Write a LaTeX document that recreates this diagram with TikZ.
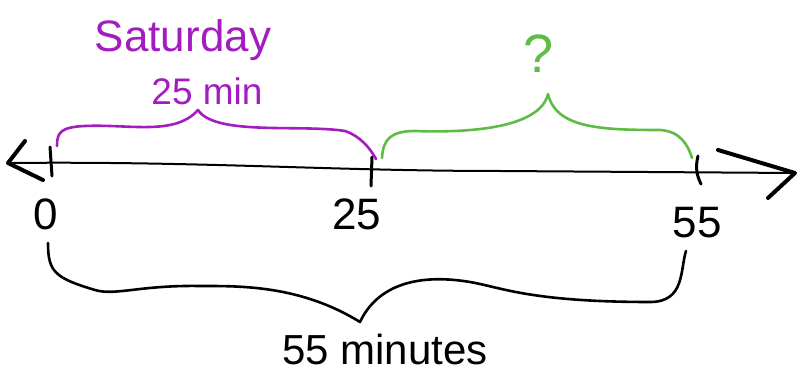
\documentclass[tikz,border=0pt]{standalone}
\usepackage{fontspec}
\setmainfont{Liberation Sans}
\definecolor{brpurple}{HTML}{A21CC0}
\definecolor{brgreen}{HTML}{5EBB46}
\begin{document}
\begin{tikzpicture}[x=1pt,y=-1pt,
  axis/.style={line width=2pt,black,line cap=round},
  tick/.style={line width=3pt,black,line cap=round},
  head/.style={line width=4pt,black,line cap=round,line join=round},
  brace/.style={line width=2.6pt,line cap=round,line join=round},
  lbl/.style={font=\fontsize{44}{44}\selectfont,inner sep=0pt},
  tlbl/.style={font=\fontsize{44}{44}\selectfont,inner sep=0pt}]
\useasboundingbox (0,0) rectangle (797,374);
% axis
\coordinate (aL) at (8,163);
\coordinate (aR) at (795,173);
\draw[axis] (aL) .. controls (200,161) and (330,171) .. (500,171) -- (aR);
\draw[head] (25,141) -- (aL) -- (43,180);
\draw[head] (718,150) -- (aR) -- (768,198);
% ticks
\draw[tick] (50,147) -- (52,176);
\draw[tick] (372,157) -- (371,186);
\draw[tick] (698,156) .. controls (695,168) and (697,176) .. (701,184);
% tick labels
\node[tlbl] (n0) at (46,214) {0};
\node[tlbl] (n25) at (357,214) {25};
\node[tlbl] (n55) at (697,223) {55};
% purple brace
\coordinate (pL) at (57,146);
\coordinate (pT) at (198,110);
\coordinate (pR) at (376,159);
\draw[brace,brpurple] (pL) .. controls (57,133) and (60,127) .. (85,126)
  .. controls (130,124) and (175,136) .. (pT)
  .. controls (215,136) and (300,124) .. (345,131)
  .. controls (360,136) and (370,148) .. (pR);
\node[lbl,brpurple] (sat) at (183,40) {Saturday};
\node[lbl,brpurple,font=\fontsize{37}{37}\selectfont] (min25) at (207,91) {25 min};
% green brace
\coordinate (gL) at (382,158);
\coordinate (gT) at (548,94);
\coordinate (gR) at (692,158);
\draw[brace,brgreen] (gL) .. controls (383,140) and (390,131) .. (415,131)
  .. controls (470,133) and (540,128) .. (gT)
  .. controls (556,128) and (600,130) .. (660,130)
  .. controls (680,131) and (688,145) .. (gR);
\node[lbl,brgreen,font=\fontsize{54}{54}\selectfont] (q) at (539,54) {?};
% bottom brace
\coordinate (bL) at (48,243);
\coordinate (bT) at (360,322);
\coordinate (bR) at (686,251);
\draw[brace,black] (bL) .. controls (48,272) and (55,278) .. (95,290)
  .. controls (115,296) and (140,285) .. (200,286)
  .. controls (240,286) and (300,285) .. (bT)
  .. controls (375,290) and (410,272) .. (470,282)
  .. controls (500,287) and (530,302) .. (650,302)
  .. controls (685,302) and (680,270) .. (bR);
\node[lbl,font=\fontsize{42}{42}\selectfont] (m55) at (385,349) {55 minutes};
\end{tikzpicture}
\end{document}
